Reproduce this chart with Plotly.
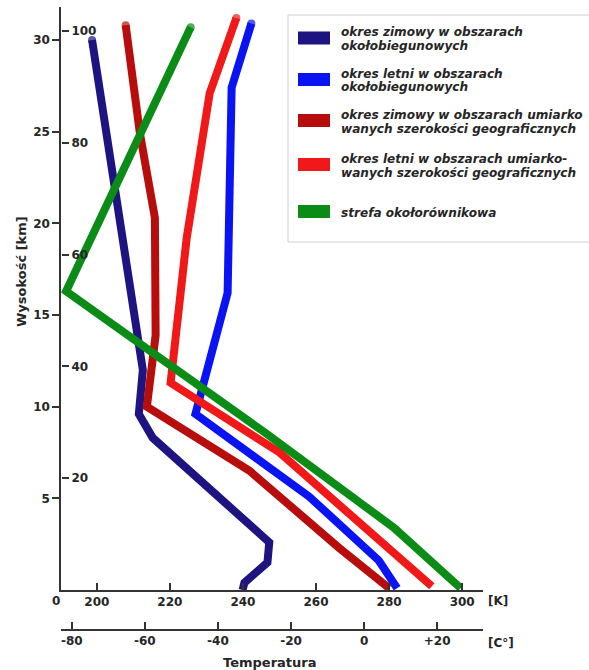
import plotly.graph_objects as go

# ---- data -------------------------------------------------------------
altitude_ticks_km = [5, 10, 15, 20, 25, 30]
altitude_ticks_kft = [20, 40, 60, 80, 100]          # thousands of feet
kelvin_ticks = [200, 220, 240, 260, 280, 300]
celsius_ticks = [-80, -60, -40, -20, 0, 20]
celsius_labels = ["-80", "-60", "-40", "-20", "0", "+20"]

series_names = [
    ["okres zimowy w obszarach", "okołobiegunowych"],
    ["okres letni w obszarach", "okołobiegunowych"],
    ["okres zimowy w obszarach umiarko", "wanych szerokości geograficznych"],
    ["okres letni w obszarach umiarko-", "wanych szerokości geograficznych"],
    ["strefa okołorównikowa"],
]
series_colors = ["#1d1482", "#0a14f2", "#b80d0d", "#f01818", "#0b8c17"]

# temperature profiles: temperature [K] vs altitude [km]
polar_winter_K = [198.7, 212.6, 211.5, 215.3, 247.2, 246.7, 240.4, 239.9]
polar_winter_km = [30.0, 12.0, 9.6, 8.3, 2.6, 1.5, 0.4, 0.0]

polar_summer_K = [242.3, 236.9, 235.8, 227.0, 258.1, 277.2, 282.2]
polar_summer_km = [30.9, 27.4, 16.2, 9.6, 5.1, 1.6, 0.1]

temperate_winter_K = [207.9, 211.8, 215.9, 216.1, 213.7, 241.8, 266.3, 280.0]
temperate_winter_km = [30.8, 24.9, 20.3, 13.9, 10.0, 6.5, 2.3, 0.1]

temperate_summer_K = [238.2, 230.9, 224.6, 220.2, 250.0, 291.7]
temperate_summer_km = [31.2, 27.1, 19.2, 11.3, 7.5, 0.2]

equatorial_K = [225.7, 191.6, 245.9, 263.6, 281.3, 299.6]
equatorial_km = [30.7, 16.3, 8.6, 6.0, 3.4, 0.1]

profiles_K = [polar_winter_K, polar_summer_K, temperate_winter_K,
              temperate_summer_K, equatorial_K]
profiles_km = [polar_winter_km, polar_summer_km, temperate_winter_km,
               temperate_summer_km, equatorial_km]

# ---- layout helpers -----------------------------------------------------
W, H = 589, 670
K_MIN, K_MAX = 190.2, 305.7
KM_MAX = 31.8
KM_PER_KFT = 0.3048
C_OFFSET = 273.15

FONT = "DejaVu Sans"
TXT = "#262626"
AXC = "#333333"
LINE_W = 8


def fx(p):
    return p / W


def fy(p):
    return 1 - p / H


fig = go.Figure()

for names, color, k, km in zip(series_names, series_colors, profiles_K, profiles_km):
    # rounded cap at the upper end of each profile
    cap_sizes = [LINE_W] + [0] * (len(k) - 1)
    fig.add_trace(go.Scatter(
        x=k, y=km, mode="lines+markers", name=" ".join(names),
        line=dict(color=color, width=LINE_W),
        marker=dict(color=color, size=cap_sizes, line=dict(width=0)),
        showlegend=False, hoverinfo="skip",
    ))

# anchor traces for the Celsius and feet scales
fig.add_trace(go.Scatter(x=[K_MIN - C_OFFSET], y=[None], xaxis="x2", yaxis="y",
                         mode="markers", showlegend=False, hoverinfo="skip"))
fig.add_trace(go.Scatter(x=[K_MIN], y=[None], xaxis="x", yaxis="y2",
                         mode="markers", showlegend=False, hoverinfo="skip"))

tickfont = dict(family=FONT, size=12, color=TXT, weight="bold")

fig.update_layout(
    width=W, height=H,
    margin=dict(l=0, r=0, t=0, b=0),
    paper_bgcolor="white", plot_bgcolor="white",
    xaxis=dict(
        domain=[fx(61), fx(483)], range=[K_MIN, K_MAX], anchor="y",
        tickvals=kelvin_ticks, ticks="inside", ticklen=7, tickwidth=1.5, tickcolor=AXC,
        showline=True, linecolor=AXC, linewidth=1.5,
        showgrid=False, zeroline=False, tickfont=tickfont,
    ),
    xaxis2=dict(
        overlaying="x", anchor="free", position=fy(630), side="bottom",
        range=[K_MIN - C_OFFSET, K_MAX - C_OFFSET],
        tickvals=celsius_ticks, ticktext=celsius_labels,
        ticks="inside", ticklen=7, tickwidth=1.5, tickcolor=AXC,
        showline=True, linecolor=AXC, linewidth=1.5,
        showgrid=False, zeroline=False, tickfont=tickfont,
    ),
    yaxis=dict(
        domain=[fy(590), fy(7)], range=[0, KM_MAX], anchor="x",
        tickvals=altitude_ticks_km, ticks="outside", ticklen=7, tickwidth=1.5, tickcolor=AXC,
        showline=True, linecolor=AXC, linewidth=1.5,
        showgrid=False, zeroline=False, tickfont=tickfont,
    ),
    yaxis2=dict(
        overlaying="y", anchor="free", position=fx(61), side="right",
        range=[0, KM_MAX / KM_PER_KFT],
        tickvals=altitude_ticks_kft, ticks="outside", ticklen=7, tickwidth=1.5, tickcolor=AXC,
        showline=False, showgrid=False, zeroline=False, tickfont=tickfont,
    ),
)

annots = []


def label(text, x, y, size=12, xanchor="center", angle=0, italic=False):
    annots.append(dict(
        text=text, x=fx(x), y=fy(y), xref="paper", yref="paper",
        xanchor=xanchor, yanchor="middle", showarrow=False, textangle=angle,
        font=dict(family=FONT, size=size, color=TXT, weight="bold",
                  style="italic" if italic else "normal"),
    ))


label("0", 56, 601)
label("[K]", 486, 601, xanchor="left")
label("[C°]", 486, 643, xanchor="left")
label("Temperatura", 269, 662, size=13)
label("Wysokość [km]", 21, 272, size=13, angle=-90)

# legend box drawn with shapes and text
shapes = [dict(type="rect", xref="paper", yref="paper",
               x0=fx(288), x1=fx(640), y0=fy(242), y1=fy(15),
               line=dict(color="#cfcfcf", width=1), fillcolor="rgba(0,0,0,0)")]
entry_centers = [39, 80.5, 121.5, 165.5, 212.5]
for names, color, cy in zip(series_names, series_colors, entry_centers):
    shapes.append(dict(type="rect", xref="paper", yref="paper",
                       x0=fx(298), x1=fx(330), y0=fy(cy - 1 + 6.5), y1=fy(cy - 1 - 6.5),
                       line=dict(width=0), fillcolor=color))
    n = len(names)
    for i, line_text in enumerate(names):
        ly = cy + (i - (n - 1) / 2) * 14
        label(line_text, 339, ly, size=12.1, xanchor="left", italic=True)

fig.update_layout(annotations=annots, shapes=shapes)

fig.write_html("out.html")
